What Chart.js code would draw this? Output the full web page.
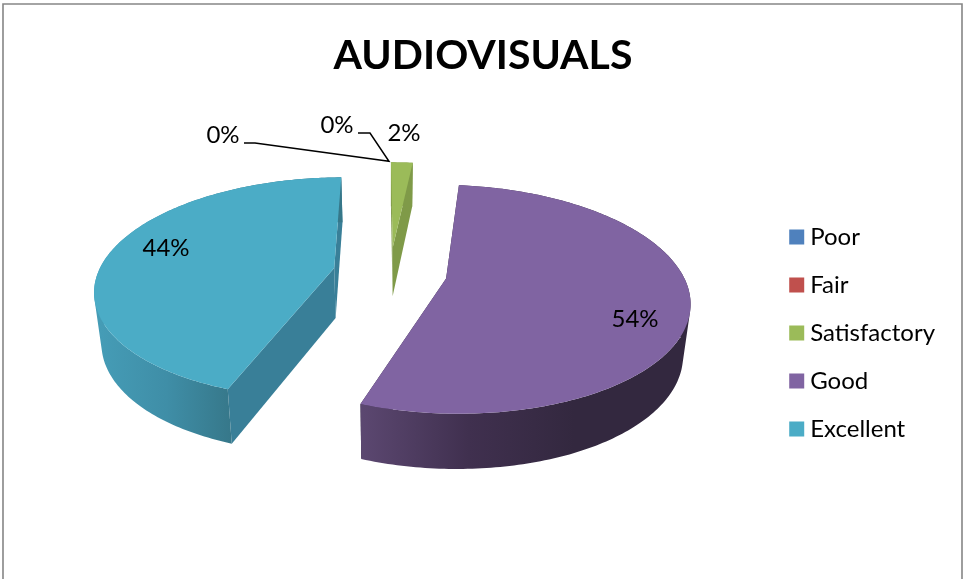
<!DOCTYPE html>
<html>
<head>
<meta charset="utf-8">
<title>AUDIOVISUALS</title>
<script src="https://cdn.jsdelivr.net/npm/chart.js@4/dist/chart.umd.min.js"></script>
<style>
	html, body { margin: 0; padding: 0; background: #fff; overflow: hidden; }
	canvas { display: block; }
</style>
</head>
<body>
<canvas id="myChart" width="963" height="579"></canvas>
<script>
'use strict';

const categories = ['Poor', 'Fair', 'Satisfactory', 'Good', 'Excellent'];
const shares = [0, 0, 1.8, 53.8, 44.4];

const colors = ['#4F81BD', '#C0504D', '#9BBB59', '#8064A2', '#4BACC6'];
const edgeColors = ['#3A5F8B', '#8E3B39', '#7F9A48', '#33283F', '#397F98'];
const rimStops = [
	['#3A5F8B'],
	['#8E3B39'],
	['#7F9A48'],
	['#5B4770', '#40304F', '#33283F', '#33283F'],
	['#459CB6', '#3F8EA7', '#367789']
];
const rimRange = [[0, 1], [0, 1], [390, 415], [363, 680], [100, 233]];

// pie seen from above: vanishing x, disc centre y, radius, tilt, perspective, thickness
const view = {cx: 390, cy: 272.5, radius: 236, tilt: 0.46, persp: 0.18, depth: 50};
const explode = 57;

// [x, y] of the value labels, one per category
const labelSpots = [[223, 135], [337, 125], [404, 133], [635, 319], [166, 248]];

function project(x, y, lower) {
	let s = 1 / (1 - view.persp * y / view.radius);
	if (!lower) {
		return [view.cx + x * s, view.cy + view.tilt * y * s];
	}
	let drop = view.depth + 5 * y / view.radius;
	return [view.cx + x * s * 0.975, view.cy + view.tilt * y * s + drop];
}

function slicePoint(arc, angle, rad, lower) {
	let mid = (arc.startAngle + arc.endAngle) / 2;
	let off = arc.options.offset;
	return project(off * Math.cos(mid) + rad * Math.cos(angle), off * Math.sin(mid) + rad * Math.sin(angle), lower);
}

function addPoints(ctx, pts) {
	pts.forEach(function (p, i) {
		if (i === 0) {
			ctx.moveTo(p[0], p[1]);
		} else {
			ctx.lineTo(p[0], p[1]);
		}
	});
	ctx.closePath();
}

function tracePoints(ctx, pts) {
	ctx.beginPath();
	addPoints(ctx, pts);
}

function rimPoints(arc, lower) {
	let pts = [];
	let n = Math.max(4, Math.ceil((arc.endAngle - arc.startAngle) * 60));
	for (let i = 0; i <= n; i++) {
		pts.push(slicePoint(arc, arc.startAngle + (arc.endAngle - arc.startAngle) * i / n, view.radius, lower));
	}
	return pts;
}

function signedArea(q) {
	let sum = 0;
	q.forEach(function (p, i) {
		let next = q[(i + 1) % q.length];
		sum += p[0] * next[1] - next[0] * p[1];
	});
	return sum;
}

// one path of small quads, all wound the same way, so the outline follows the side of the disc
function traceRim(ctx, arc) {
	let upper = rimPoints(arc, false);
	let lower = rimPoints(arc, true);
	ctx.beginPath();
	for (let i = 0; i < upper.length - 1; i++) {
		let q = [upper[i], upper[i + 1], lower[i + 1], lower[i]];
		addPoints(ctx, signedArea(q) < 0 ? q.reverse() : q);
	}
}

const pie3d = {
	id: 'pie3d',
	beforeDatasetsDraw: function (chart) {
		let ctx = chart.ctx;
		let arcs = chart.getDatasetMeta(0).data;
		ctx.save();
		arcs.forEach(function (arc, i) {
			if (arc.endAngle - arc.startAngle < 0.001) {
				return;
			}
			// straight walls
			[arc.startAngle, arc.endAngle].forEach(function (a) {
				tracePoints(ctx, [
					slicePoint(arc, a, 0, false),
					slicePoint(arc, a, view.radius, false),
					slicePoint(arc, a, view.radius, true),
					slicePoint(arc, a, 0, true)
				]);
				ctx.fillStyle = edgeColors[i];
				ctx.fill();
			});
			// curved wall
			let grad = ctx.createLinearGradient(rimRange[i][0], 0, rimRange[i][1], 0);
			let stops = rimStops[i];
			stops.forEach(function (c, k) {
				grad.addColorStop(stops.length > 1 ? k / (stops.length - 1) : 0, c);
			});
			traceRim(ctx, arc);
			ctx.fillStyle = grad;
			ctx.fill();
			// top face
			tracePoints(ctx, [slicePoint(arc, arc.startAngle, 0, false)].concat(rimPoints(arc, false)));
			ctx.fillStyle = colors[i];
			ctx.fill();
		});
		ctx.restore();
		return false;
	},
	afterDraw: function (chart) {
		let ctx = chart.ctx;
		let arcs = chart.getDatasetMeta(0).data;
		let total = shares.reduce(function (a, b) { return a + b; }, 0);
		ctx.save();

		// frame, open at the bottom
		ctx.strokeStyle = '#868686';
		ctx.lineWidth = 1.6;
		ctx.beginPath();
		ctx.moveTo(3, 585);
		ctx.lineTo(3, 4);
		ctx.lineTo(962, 4);
		ctx.lineTo(962, 585);
		ctx.stroke();

		// leader lines of the two empty slices
		let corner = slicePoint(arcs[2], arcs[2].startAngle, view.radius, false);
		ctx.strokeStyle = '#000';
		ctx.lineWidth = 1.5;
		ctx.beginPath();
		ctx.moveTo(labelSpots[0][0] + 21, labelSpots[0][1] + 8);
		ctx.lineTo(labelSpots[0][0] + 32, labelSpots[0][1] + 8);
		ctx.lineTo(corner[0] - 2, corner[1] - 1);
		ctx.lineTo(labelSpots[1][0] + 33, labelSpots[1][1] + 8);
		ctx.lineTo(labelSpots[1][0] + 21, labelSpots[1][1] + 8);
		ctx.stroke();

		ctx.fillStyle = '#000';
		ctx.font = '24px Lato';
		ctx.textAlign = 'center';
		ctx.textBaseline = 'middle';
		shares.forEach(function (v, i) {
			ctx.fillText(Math.round(v / total * 100) + '%', labelSpots[i][0], labelSpots[i][1]);
		});
		ctx.restore();
	}
};

new Chart(document.getElementById('myChart').getContext('2d'), {
	type: 'pie',
	data: {
		labels: categories,
		datasets: [{
			data: shares,
			backgroundColor: colors,
			offset: [0, 0, explode, explode, explode],
			borderWidth: 0
		}]
	},
	options: {
		responsive: false,
		animation: false,
		rotation: -0.4,
		layout: {padding: {top: 0, right: 18, bottom: 0, left: 21}},
		plugins: {
			tooltip: {enabled: false},
			title: {
				display: true,
				text: 'AUDIOVISUALS',
				color: '#000',
				font: {family: 'Lato', size: 41, weight: 'bold'},
				padding: {top: 31, bottom: 7}
			},
			legend: {
				position: 'right',
				fullSize: false,
				labels: {
					color: '#000',
					font: {family: 'Lato', size: 24},
					boxWidth: 3,
					boxHeight: 3,
					padding: 24,
					generateLabels: function (chart) {
						return categories.map(function (name, i) {
							return {
								text: name,
								fillStyle: colors[i],
								strokeStyle: colors[i],
								lineWidth: 12,
								hidden: false,
								index: i
							};
						});
					}
				}
			}
		}
	},
	plugins: [pie3d]
});
</script>
</body>
</html>
